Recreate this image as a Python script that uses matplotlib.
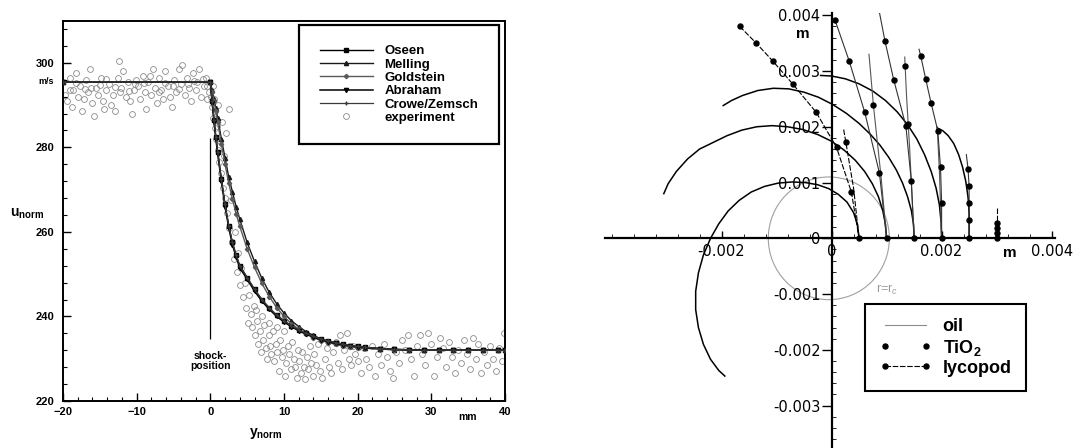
import numpy as np
import matplotlib
matplotlib.use("Agg")
import matplotlib.pyplot as plt
from matplotlib.patches import Circle
from matplotlib.lines import Line2D
from matplotlib.ticker import MultipleLocator, FuncFormatter

plt.rcParams['font.family'] = ['Liberation Sans', 'DejaVu Sans']
plt.rcParams['mathtext.fontset'] = 'custom'
plt.rcParams['mathtext.rm'] = 'Liberation Sans'
plt.rcParams['mathtext.bf'] = 'Liberation Sans:bold'
plt.rcParams['mathtext.it'] = 'Liberation Sans:italic'

# ---------------- left panel: velocity across the shock ----------------
model_x = [-20, 0, 0.25, 0.5, 0.75, 1, 1.5, 2, 2.5, 3, 3.5, 4, 5, 6, 7, 8, 9, 10, 11, 12,
           13, 14, 15, 16, 17, 18, 19, 20, 21, 23, 25, 27, 29, 31, 33, 35, 37, 39, 40]
oseen_y = [295.5, 295.5, 291, 286.5, 282.5, 279, 272.5, 266.5, 261.5, 257.5, 254.5, 252,
           249.2, 246.4, 244, 242, 240.3, 239, 237.8, 236.8, 236, 235.3, 234.7, 234.2,
           233.8, 233.4, 233.1, 232.9, 232.7, 232.4, 232.2, 232.1, 232, 232, 232, 232, 232, 232, 232]
melling_y = [295.5, 295.5, 293.5, 291.5, 289.3, 287, 282, 277.5, 273, 269.5, 266, 263,
             257.5, 253, 249, 245.7, 243, 240.8, 239, 237.6, 236.4, 235.5, 234.7, 234.1,
             233.6, 233.2, 232.9, 232.7, 232.5, 232.3, 232.1, 232, 232, 232, 232, 232, 232, 232, 232]
goldstein_y = [295.5, 295.5, 293.2, 290.9, 288.5, 286, 280.8, 276, 271.5, 267.8, 264.3, 261.3,
               256, 251.6, 247.8, 244.7, 242.1, 240, 238.3, 237, 235.9, 235, 234.3, 233.8,
               233.4, 233, 232.8, 232.6, 232.5, 232.3, 232.1, 232, 232, 232, 232, 232, 232, 232, 232]
abraham_y = [295.5, 295.5, 290.6, 286, 282, 278.5, 272, 266, 261, 257, 254, 251.5,
             248.8, 246, 243.6, 241.7, 240, 238.7, 237.6, 236.6, 235.8, 235.1, 234.5, 234,
             233.6, 233.3, 233, 232.8, 232.6, 232.4, 232.2, 232.1, 232, 232, 232, 232, 232, 232, 232]
crowe_y = [295.5, 295.5, 291, 286.5, 282.5, 279, 272.5, 266.5, 261.5, 257.5, 254.5, 252,
           249.2, 246.4, 244, 242, 240.3, 239, 237.8, 236.8, 236, 235.3, 234.7, 234.2,
           233.8, 233.4, 233.1, 232.9, 232.7, 232.4, 232.2, 232.1, 232, 232, 232, 232, 232, 232, 232]

exp_pts = [
    (-19.7, 292.5), (-19.4, 291), (-19.1, 296.5), (-18.8, 289.5), (-18.6, 293.5), (-18.3, 297.5),
    (-18.0, 292), (-17.7, 294.5), (-17.4, 288.5), (-17.2, 291.5), (-16.9, 296), (-16.6, 293),
    (-16.3, 298.5), (-16.0, 290.5), (-15.8, 287.5), (-15.5, 294), (-15.2, 292.5), (-14.9, 296.5),
    (-14.6, 291), (-14.4, 289), (-14.1, 293.5), (-13.8, 295), (-13.5, 290), (-13.2, 292.5),
    (-12.9, 288.5), (-12.6, 296.5), (-12.4, 300.5), (-12.1, 294), (-11.8, 298), (-11.5, 292),
    (-11.2, 295.5), (-10.9, 291), (-10.6, 288), (-10.4, 293.5), (-10.1, 296), (-9.8, 294.5),
    (-9.5, 291.5), (-9.2, 297), (-8.9, 293), (-8.7, 289), (-8.4, 295.5), (-8.1, 292.5),
    (-7.8, 298.5), (-7.5, 294), (-7.2, 290.5), (-6.9, 296.5), (-6.7, 293.5), (-6.4, 291.5),
    (-6.1, 298), (-5.8, 294.5), (-5.5, 292), (-5.2, 289.5), (-4.9, 296), (-4.6, 293),
    (-4.3, 298.5), (-4.0, 295), (-3.8, 299.5), (-3.5, 292.5), (-3.2, 296.5), (-2.9, 294),
    (-2.6, 291), (-2.3, 297.5), (-2.0, 293.5), (-1.8, 295.5), (-1.5, 298.5), (-1.2, 292),
    (-0.9, 294.5), (-0.6, 296.5), (-0.4, 291.5), (-0.2, 293),
    (-19.0, 293.5), (-17.0, 293.8), (-15.0, 294.8), (-13.0, 294.2), (-11.0, 293.3), (-9.0, 295.2),
    (-7.0, 293.2), (-5.0, 294.6), (-3.0, 294.9), (-1.0, 296.2), (-18.2, 295.2), (-16.2, 294.1),
    (-14.2, 296.2), (-12.2, 293.1), (-10.2, 295.1), (-8.2, 296.9), (-6.2, 295.3), (-4.2, 293.9),
    (-2.2, 295.8), (-0.5, 294.6),
    (0.1, 292), (0.2, 289.5), (0.3, 294.5), (0.4, 287), (0.5, 291.5), (0.6, 284.5), (0.7, 288.5),
    (0.8, 282), (0.9, 285), (1.0, 279.5), (1.1, 290), (1.2, 276.5), (1.3, 281.5), (1.5, 274),
    (1.6, 286), (1.7, 270.5), (1.8, 278), (2.0, 268), (2.1, 283.5), (2.3, 264.5), (2.5, 289),
    (2.6, 261), (2.8, 267.5), (3.0, 257.5), (3.2, 253.5), (3.4, 260), (3.6, 250.5), (3.8, 255),
    (4.0, 247.5), (4.2, 251.5), (4.4, 244.5), (4.7, 248), (4.9, 242), (5.1, 238.5), (5.3, 245),
    (5.5, 240.5), (5.7, 237.5), (5.9, 242.5),
    (6.1, 235.5), (6.3, 239), (6.5, 233.5), (6.7, 236.5), (6.9, 231.5), (7.1, 234.5), (7.3, 238),
    (7.5, 232.5), (7.7, 230), (7.9, 235.5), (8.1, 233), (8.3, 231), (8.5, 236.5), (8.7, 229.5),
    (8.9, 233.5), (9.1, 231.5), (9.3, 227), (9.5, 234.5), (9.7, 230.5), (9.9, 232), (10.1, 226),
    (10.3, 229), (10.5, 233), (10.7, 231), (10.9, 227.5), (11.1, 234), (11.3, 230), (11.5, 228),
    (11.7, 225.5), (11.9, 232), (12.1, 229.5), (12.3, 226.5), (12.5, 231.5), (12.7, 228),
    (12.9, 225.2), (13.1, 230.5), (13.3, 227.5), (13.5, 233), (13.7, 229), (13.9, 226),
    (14.1, 231), (14.3, 228.5), (14.6, 233.5), (14.9, 227), (15.2, 225.5), (15.5, 230),
    (15.8, 232.5), (16.1, 228), (16.4, 226.5), (16.7, 231.5), (17.0, 234), (17.3, 229),
    (17.6, 235.5), (17.9, 227.5), (18.2, 232), (18.5, 236), (18.8, 230), (19.1, 228.5),
    (19.4, 233), (19.7, 231), (6.2, 241.5), (7.0, 240), (8.0, 238.5), (9.0, 237.5), (10.0, 236.5),
    (20.0, 229.5), (20.4, 226.5), (20.8, 232.5), (21.2, 230), (21.6, 228), (22.0, 233),
    (22.4, 226), (22.8, 231), (23.2, 228.5), (23.6, 233.5), (24.0, 230.5), (24.4, 227),
    (24.8, 225.5), (25.2, 231.5), (25.6, 229), (26.0, 234.5), (26.4, 232), (26.8, 235.5),
    (27.2, 230), (27.6, 226), (28.0, 233), (28.4, 235.5), (28.8, 231), (29.2, 228.5),
    (29.6, 236), (30.0, 233.5), (30.4, 226), (30.8, 230.5), (31.2, 235), (31.6, 232.5),
    (32.0, 228), (32.4, 234), (32.8, 230.5), (33.2, 226.5), (33.6, 232), (34.0, 229),
    (34.4, 234.5), (34.8, 231), (35.2, 227.5), (35.6, 235), (36.0, 230), (36.4, 233.5),
    (36.8, 226.5), (37.2, 231.5), (37.6, 228.5), (38.0, 233), (38.4, 230), (38.8, 227),
    (39.2, 232.5), (39.6, 229.5), (39.9, 236),
]

# ---------------- right panel: particle paths (units of 1e-3 m) ----------------
arcs = [
    ([0.5, 0.47, 0.4, 0.28, 0.12, -0.05, -0.25, -0.48, -0.72, -0.97, -1.22, -1.46, -1.68,
      -1.88, -2.05, -2.2, -2.33, -2.42, -2.47, -2.47, -2.42, -2.33, -2.2, -2.05, -1.94],
     [0.0, 0.25, 0.46, 0.65, 0.79, 0.89, 0.96, 1.0, 1.01, 0.99, 0.93, 0.83, 0.68,
      0.49, 0.26, 0.0, -0.3, -0.62, -0.95, -1.28, -1.6, -1.9, -2.17, -2.37, -2.47]),
    ([1.0, 0.98, 0.93, 0.85, 0.74, 0.6, 0.43, 0.23, 0.0, -0.25, -0.52, -0.8, -1.08, -1.36,
      -1.63, -1.9, -2.15, -2.4, -2.62, -2.82, -2.97, -3.05],
     [0.0, 0.25, 0.5, 0.75, 0.98, 1.2, 1.4, 1.58, 1.74, 1.86, 1.95, 2.0, 2.02, 2.0,
      1.94, 1.84, 1.72, 1.6, 1.42, 1.2, 0.98, 0.8]),
    ([1.5, 1.49, 1.45, 1.38, 1.29, 1.18, 1.04, 0.88, 0.7, 0.5, 0.27, 0.02, -0.24, -0.5,
      -0.78, -1.06, -1.34, -1.62, -1.82, -1.97],
     [0.0, 0.25, 0.5, 0.75, 0.99, 1.22, 1.45, 1.67, 1.87, 2.06, 2.24, 2.4, 2.53, 2.62,
      2.68, 2.69, 2.65, 2.56, 2.47, 2.38]),
    ([-0.2, 0.0, 0.25, 0.5, 0.75, 0.98, 1.19, 1.38, 1.55, 1.69, 1.81, 1.9, 1.96, 1.99, 2.0],
     [2.92, 2.91, 2.86, 2.77, 2.64, 2.47, 2.27, 2.04, 1.78, 1.5, 1.2, 0.9, 0.6, 0.3, 0.0]),
    ([1.92, 2.02, 2.12, 2.22, 2.31, 2.38, 2.44, 2.48, 2.5, 2.5, 2.5],
     [1.98, 1.93, 1.84, 1.7, 1.5, 1.28, 1.02, 0.74, 0.45, 0.2, 0.0]),
]
oil_paths = [
    ([0.68, 0.76, 0.9, 1.0], [3.3, 2.39, 1.1, 0.0]),
    ([1.33, 1.36, 1.42, 1.5], [3.25, 2.6, 1.6, 0.0]),
    ([1.92, 1.96, 2.0], [2.0, 1.2, 0.0]),
]
tio2_paths = [
    ([0.06, 0.32, 0.60, 0.87, 1.0], [3.92, 3.18, 2.27, 1.17, 0.0]),
    ([0.87, 0.97, 1.13, 1.35, 1.45, 1.5], [4.05, 3.54, 2.84, 2.02, 1.02, 0.0]),
    ([1.59, 1.62, 1.71, 1.81, 1.93, 1.98, 2.0, 2.0], [3.39, 3.27, 2.86, 2.42, 1.93, 1.27, 0.64, 0.0]),
    ([2.45, 2.48, 2.5, 2.5, 2.5, 2.5], [1.5, 1.25, 0.93, 0.63, 0.32, 0.0]),
]
tio2_first_dot = [0, 1, 1, 1]
tio2_single_x = [0.76, 1.33, 1.39]
tio2_single_y = [2.39, 3.09, 2.05]
lyco_paths = [
    ([-1.67, -1.38, -1.07, -0.70, -0.28, 0.09, 0.36, 0.5], [3.80, 3.51, 3.18, 2.76, 2.26, 1.63, 0.83, 0.0]),
    ([0.22, 0.26, 0.4, 0.5], [1.95, 1.72, 0.9, 0.0]),
    ([3.0, 3.0, 3.0, 3.0, 3.0], [0.55, 0.27, 0.18, 0.09, 0.0]),
]
lyco_dots = [[0, 1, 2, 3, 4, 5, 6, 7], [1], [1, 2, 3, 4]]
core_center = (-0.05, 0.0)
core_radius = 1.1
MM = 1e-3

fig = plt.figure(figsize=(10.86, 4.48), dpi=100)

# ---- left
ax1 = fig.add_axes([0.058, 0.105, 0.407, 0.849])
ex = np.array(exp_pts)
ax1.plot(ex[:, 0], ex[:, 1], 'o', mfc='none', mec='#8c8c8c', ms=4.2, mew=0.6, zorder=1, label='experiment')
ax1.plot(model_x, oseen_y, '-', color='black', lw=1.0, marker='s', ms=2.6, label='Oseen', zorder=3)
ax1.plot(model_x, melling_y, '-', color='#1a1a1a', lw=1.0, marker='^', ms=3.0, label='Melling', zorder=3)
ax1.plot(model_x, goldstein_y, '-', color='#5a5a5a', lw=1.0, marker='D', ms=2.2, label='Goldstein', zorder=3)
ax1.plot(model_x, abraham_y, '-', color='black', lw=1.1, marker='v', ms=3.0, label='Abraham', zorder=3)
ax1.plot(model_x, crowe_y, '-', color='#3a3a3a', lw=0.9, marker='+', ms=3.0, label='Crowe/Zemsch', zorder=3)

ax1.vlines(0, 234.7, 282.2, color='black', lw=0.9)
ax1.text(0, 229.5, 'shock-\nposition', ha='center', va='center', fontsize=7.5,
         fontweight='bold', linespacing=0.95)

ax1.set_xlim(-20, 40)
ax1.set_ylim(220, 310)
ax1.set_xticks(range(-20, 41, 10))
ax1.set_yticks([220, 240, 260, 280, 300])
ax1.xaxis.set_minor_locator(MultipleLocator(2))
ax1.yaxis.set_minor_locator(MultipleLocator(4))
ax1.tick_params(which='major', direction='in', length=6, width=1, labelsize=8, pad=6)
ax1.tick_params(axis='x', which='major', pad=4)
ax1.tick_params(which='minor', direction='in', length=3, width=0.8)
for lbl in ax1.get_xticklabels() + ax1.get_yticklabels():
    lbl.set_fontweight('bold')
for sp in ax1.spines.values():
    sp.set_linewidth(1.4)

ax1.text(-22.3, 295.6, 'm/s', ha='center', va='center', fontsize=6.5, fontweight='bold')
ax1.text(-24.8, 264.4, r'$\mathbf{u}_{\mathbf{norm}}$', ha='center', va='center', fontsize=10)
ax1.text(7.5, 212.4, r'$\mathbf{y}_{\mathbf{norm}}$', ha='center', va='center', fontsize=10)
ax1.text(34.9, 216.2, 'mm', ha='center', va='center', fontsize=7.5, fontweight='bold')

h, l = ax1.get_legend_handles_labels()
order = [1, 2, 3, 4, 5, 0]
leg = ax1.legend([h[i] for i in order], [l[i] for i in order], loc='upper right',
                 bbox_to_anchor=(0.986, 0.989), borderaxespad=0, numpoints=1,
                 handlelength=4.0, handletextpad=0.9, labelspacing=0.08, borderpad=1.55,
                 fancybox=False, framealpha=1, edgecolor='black',
                 prop={'weight': 'bold', 'size': 9.5})
leg.get_frame().set_linewidth(1.6)

# ---- right
ax2 = fig.add_axes([0.557, 0.0, 0.4144, 0.971])
ax2.set_xlim(-4.12e-3, 4.06e-3)
ax2.set_ylim(-3.76e-3, 4.04e-3)

ax2.add_patch(Circle((core_center[0] * MM, core_center[1] * MM), core_radius * MM,
                     fill=False, ec='#a0a0a0', lw=0.8))
ax2.text(0.8e-3, -0.93e-3, r'r=r$_c$', color='#9a9a9a', fontsize=9, ha='left', va='center')

for xs, ys in arcs:
    ax2.plot(np.array(xs) * MM, np.array(ys) * MM, color='black', lw=1.1)
for i, (xs, ys) in enumerate(oil_paths):
    ax2.plot(np.array(xs) * MM, np.array(ys) * MM, color='#555555', lw=0.8)
for (xs, ys), k in zip(tio2_paths, tio2_first_dot):
    xa, ya = np.array(xs) * MM, np.array(ys) * MM
    ax2.plot(xa, ya, color='#333333', lw=0.8)
    ax2.plot(xa[k:], ya[k:], 'o', color='black', ms=3.6, zorder=4)
ax2.plot(np.array(tio2_single_x) * MM, np.array(tio2_single_y) * MM, 'o', color='black', ms=3.6, zorder=4)
for (xs, ys), d in zip(lyco_paths, lyco_dots):
    ax2.plot(np.array(xs) * MM, np.array(ys) * MM, '--', color='black', lw=0.8,
             dashes=(5, 1.5), marker='o', ms=3.6, markevery=d, zorder=4)

for s in ('top', 'right'):
    ax2.spines[s].set_visible(False)
for s in ('left', 'bottom'):
    ax2.spines[s].set_position(('data', 0))
    ax2.spines[s].set_linewidth(1.6)

ax2.set_xticks([-0.002, 0, 0.002, 0.004])
ax2.set_yticks([-0.003, -0.002, -0.001, 0, 0.001, 0.002, 0.003, 0.004])
ax2.xaxis.set_minor_locator(MultipleLocator(0.0004))
ax2.yaxis.set_minor_locator(MultipleLocator(0.0002))
fmt = FuncFormatter(lambda v, p: '0' if abs(v) < 1e-12 else f'{v:.3f}')
ax2.xaxis.set_major_formatter(fmt)
ax2.yaxis.set_major_formatter(fmt)
ax2.tick_params(axis='x', which='major', direction='in', length=5, width=1, labelsize=10.5, pad=4)
ax2.tick_params(axis='x', which='minor', direction='in', length=3, width=0.6)
ax2.tick_params(axis='y', which='major', direction='out', length=7, width=1, labelsize=10.5, pad=1)
ax2.tick_params(axis='y', which='minor', direction='in', length=3, width=0.6)
for lbl in ax2.get_xticklabels() + ax2.get_yticklabels():
    lbl.set_fontfamily('DejaVu Sans')

ax2.text(-0.00053, 0.00366, 'm', ha='center', va='center', fontsize=11, fontweight='bold')
ax2.text(0.00324, -0.00027, 'm', ha='center', va='center', fontsize=11, fontweight='bold')

h2 = [Line2D([], [], color='#8c8c8c', lw=0.8),
      Line2D([], [], ls='none', marker='o', color='black', ms=3.6),
      Line2D([], [], ls='--', dashes=(5, 1.5), lw=0.8, marker='o', color='black', ms=3.6)]
leg2 = ax2.legend(h2, ['oil', r'TiO$_\mathbf{2}$', 'lycopod'], loc='upper left',
                  bbox_to_anchor=(0.578, 0.331), borderaxespad=0, numpoints=2,
                  handlelength=2.9, handletextpad=0.6, labelspacing=0.12, borderpad=0.8,
                  fancybox=False, framealpha=1, edgecolor='black',
                  prop={'weight': 'bold', 'size': 13})
leg2.get_frame().set_linewidth(1.5)

fig.savefig('out.png', dpi=100)
